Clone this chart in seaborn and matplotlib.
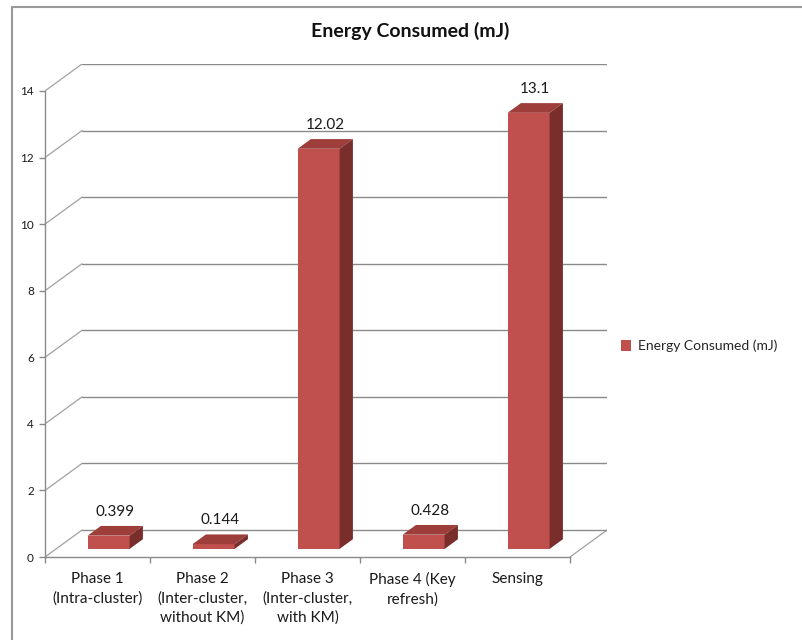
import matplotlib
matplotlib.use("Agg")
import matplotlib.pyplot as plt
from matplotlib.patches import Polygon, Patch
from matplotlib.lines import Line2D
import seaborn as sns
import pandas as pd

categories = [
    "Phase 1\n(Intra-cluster)",
    "Phase 2\n(Inter-cluster,\nwithout KM)",
    "Phase 3\n(Inter-cluster,\nwith KM)",
    "Phase 4 (Key\nrefresh)",
    "Sensing",
]
energy_mj = [0.399, 0.144, 12.02, 0.428, 13.1]
value_labels = ["0.399", "0.144", "12.02", "0.428", "13.1"]
y_ticks = [0, 2, 4, 6, 8, 10, 12, 14]
series_name = "Energy Consumed (mJ)"
chart_title = "Energy Consumed (mJ)"

sns.set_theme(style="white")
plt.rcParams["font.family"] = ["Lato", "DejaVu Sans"]

FRONT = "#C0504D"
TOP = "#9E3E3B"
SIDE = "#7A2E2C"
GRID = "#8A8A8A"

W, H = 802, 640
fig = plt.figure(figsize=(W / 100, H / 100), dpi=100)
left, right, bottom, top = 45, 607, 557, 64
ax = fig.add_axes([left / W, 1 - bottom / H, (right - left) / W, (bottom - top) / H])

n = len(categories)
ymax = y_ticks[-1]
# depth of the 3D box (back wall offset) in data units
ddx = 37 / 105
ddy = 27 / ((bottom - 90) / ymax)
bar_pos = 0.30   # where bars stand within the floor depth
bar_depth = 0.36  # depth of each bar relative to the box depth

df = pd.DataFrame({"cat": categories, "val": energy_mj})
sns.barplot(data=df, x="cat", y="val", ax=ax, color=FRONT, width=0.4,
            saturation=1, errorbar=None, zorder=3, edgecolor="none")

# back wall gridlines and left-wall diagonals
for v in y_ticks:
    ax.plot([-0.5 + ddx, n - 0.5 + ddx], [v + ddy, v + ddy], color=GRID, lw=1, zorder=1)
    ax.plot([-0.5, -0.5 + ddx], [v, v + ddy], color=GRID, lw=0.9, zorder=1, alpha=0.8)
# right edge of floor
ax.plot([n - 0.5, n - 0.5 + ddx], [0, ddy], color=GRID, lw=0.9, zorder=1, alpha=0.8)

bdx, bdy = ddx * bar_depth, ddy * bar_depth
for p, lab in zip(ax.patches, value_labels):
    p.set_x(p.get_x() + ddx * bar_pos)
    p.set_y(ddy * bar_pos)
    x0 = p.get_x()
    x1 = x0 + p.get_width()
    yb = p.get_y()
    yt = yb + p.get_height()
    ax.add_patch(Polygon([(x0, yt), (x1, yt), (x1 + bdx, yt + bdy), (x0 + bdx, yt + bdy)],
                         closed=True, facecolor=TOP, edgecolor="none", zorder=3))
    ax.add_patch(Polygon([(x1, yb), (x1, yt), (x1 + bdx, yt + bdy), (x1 + bdx, yb + bdy)],
                         closed=True, facecolor=SIDE, edgecolor="none", zorder=3))
    ax.annotate(lab, xy=((x0 + x1) / 2 + bdx / 2, yt + bdy), xytext=(0, 5),
                textcoords="offset points", ha="center", va="bottom",
                fontsize=11, color="#1a1a1a", zorder=4)

ax.set_xlim(-0.5, n - 0.5 + ddx)
ax.set_ylim(0, ymax + ddy)

for s in ["top", "right"]:
    ax.spines[s].set_visible(False)
for s in ["left", "bottom"]:
    ax.spines[s].set_color(GRID)
    ax.spines[s].set_linewidth(1)
ax.spines["left"].set_bounds(0, ymax)
ax.spines["bottom"].set_bounds(-0.5, n - 0.5)

ax.set_yticks(y_ticks)
ax.set_yticklabels([str(t) for t in y_ticks], fontsize=8.5, color="#1a1a1a")
ax.tick_params(axis="y", length=4, width=1, color=GRID, pad=4, left=True)
ax.set_xticks(range(n))
ax.set_xticklabels(categories, fontsize=11, color="#1a1a1a", linespacing=1.42)
ax.tick_params(axis="x", which="major", length=0, pad=11, bottom=True)
ax.set_xticks([i - 0.5 for i in range(n + 1)], minor=True)
ax.tick_params(axis="x", which="minor", length=4, width=1, color=GRID, bottom=True)
ax.set_xlabel("")
ax.set_ylabel("")
ax.grid(False)

fig.text(410 / W, 1 - 31 / H, chart_title, ha="center", va="center",
         fontsize=14, fontweight="bold", color="#111111")

fig.legend(handles=[Patch(facecolor=FRONT, edgecolor="none", label=series_name)],
           loc="center left", bbox_to_anchor=(608 / W, 1 - 346 / H), frameon=False,
           fontsize=10, handlelength=0.75, handleheight=0.75, handletextpad=0.5)

# chart area border (left and top edges)
fy = 1 - 7 / H
fx = 12 / W
fig.add_artist(Line2D([fx, fx], [0, fy], transform=fig.transFigure, color="#999999", lw=1.5))
fig.add_artist(Line2D([fx, 1], [fy, fy], transform=fig.transFigure, color="#999999", lw=1.5))

fig.savefig("out.png", dpi=100)
